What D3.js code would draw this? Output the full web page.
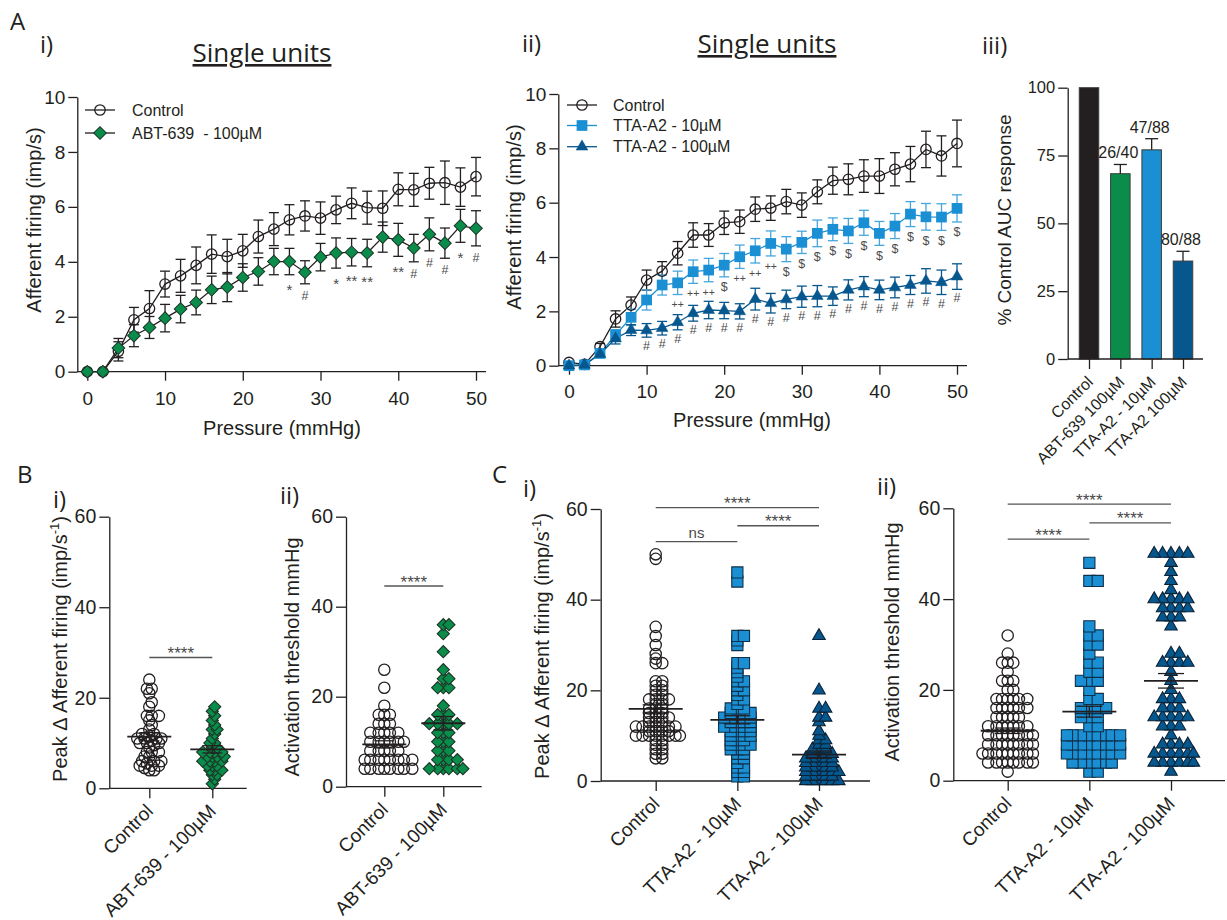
<!DOCTYPE html>
<html>
<head>
<meta charset="utf-8">
<script src="https://cdn.jsdelivr.net/npm/d3@7"></script>
<style>
  body { margin: 0; background: #fff; }
  svg text { fill: #231f20; font-family: 'Liberation Sans', Arial, sans-serif; }
  svg text.hum { font-family: 'Open Sans', 'Noto Sans', sans-serif; }
  svg text.sig { fill: #4a4a4a; }
</style>
</head>
<body>
<svg id="fig" width="1227" height="920"></svg>
<script>
// ---- data ----
const pressure = [0, 2, 4, 6, 8, 10, 12, 14, 16, 18, 20, 22, 24, 26, 28, 30, 32, 34, 36, 38, 40, 42, 44, 46, 48, 50];

// A i) single units, control vs ABT-639
const ctrlA1 = [0, 0, 0.74, 1.89, 2.3, 3.19, 3.49, 3.87, 4.28, 4.19, 4.4, 4.92, 5.19, 5.53, 5.67, 5.59, 5.89, 6.13, 5.97, 5.95, 6.64, 6.62, 6.86, 6.88, 6.72, 7.1];
const ctrlA1Err = [0, 0, 0.35, 0.45, 0.65, 0.47, 0.6, 0.67, 0.7, 0.63, 0.6, 0.6, 0.6, 0.55, 0.55, 0.59, 0.5, 0.56, 0.6, 0.63, 0.6, 0.6, 0.58, 0.79, 0.7, 0.7];
const abtA1 = [0, 0, 0.86, 1.31, 1.61, 1.95, 2.28, 2.52, 2.98, 3.08, 3.43, 3.65, 4.01, 4.01, 3.62, 4.17, 4.32, 4.35, 4.32, 4.9, 4.8, 4.5, 5.0, 4.68, 5.31, 5.22];
const abtA1Err = [0, 0, 0.35, 0.4, 0.4, 0.5, 0.5, 0.45, 0.5, 0.53, 0.5, 0.5, 0.48, 0.48, 0.42, 0.5, 0.55, 0.5, 0.5, 0.55, 0.6, 0.5, 0.6, 0.55, 0.6, 0.64];
const sigA1 = [[26, '*'], [28, '#'], [32, '*'], [34, '**'], [36, '**'], [40, '**'], [42, '#'], [44, '#'], [46, '#'], [48, '*'], [50, '#']];

// A ii) single units, control vs TTA-A2
const ctrlA2 = [0.12, 0.05, 0.7, 1.72, 2.23, 3.15, 3.48, 4.14, 4.81, 4.81, 5.26, 5.3, 5.76, 5.8, 6.04, 5.91, 6.4, 6.81, 6.86, 6.98, 6.98, 7.23, 7.42, 7.96, 7.72, 8.18];
const ctrlA2Err = [0, 0, 0.12, 0.3, 0.3, 0.37, 0.35, 0.43, 0.45, 0.42, 0.43, 0.43, 0.45, 0.45, 0.45, 0.45, 0.44, 0.5, 0.57, 0.6, 0.64, 0.61, 0.65, 0.67, 0.74, 0.86];
const tta10A2 = [0, 0.03, 0.45, 1.13, 1.78, 2.42, 2.97, 3.05, 3.46, 3.52, 3.7, 4.01, 4.23, 4.5, 4.29, 4.54, 4.87, 5.02, 4.96, 5.26, 4.87, 5.14, 5.58, 5.48, 5.47, 5.79];
const tta10A2Err = [0, 0, 0.1, 0.2, 0.3, 0.37, 0.37, 0.43, 0.43, 0.43, 0.43, 0.43, 0.45, 0.46, 0.46, 0.41, 0.49, 0.42, 0.46, 0.46, 0.44, 0.46, 0.46, 0.49, 0.49, 0.5];
const tta100A2 = [0, 0.03, 0.43, 1.0, 1.31, 1.3, 1.38, 1.6, 1.93, 2.05, 2.03, 2.0, 2.45, 2.3, 2.44, 2.54, 2.56, 2.56, 2.79, 2.91, 2.79, 2.88, 2.97, 3.12, 3.07, 3.28];
const tta100A2Err = [0, 0, 0.1, 0.2, 0.2, 0.25, 0.25, 0.28, 0.29, 0.32, 0.3, 0.28, 0.4, 0.36, 0.34, 0.39, 0.39, 0.34, 0.37, 0.37, 0.36, 0.38, 0.35, 0.45, 0.45, 0.47];
const sigA2lo = [[14, '++'], [16, '++'], [18, '++'], [20, '$'], [22, '++'], [24, '++'], [26, '++'], [28, '$'], [30, '$'], [32, '$'], [34, '$'], [36, '$'], [38, '$'], [40, '$'], [42, '$'], [44, '$'], [46, '$'], [48, '$'], [50, '$']];
const sigA2hi = [[10, '#'], [12, '#'], [14, '#'], [16, '#'], [18, '#'], [20, '#'], [22, '#'], [24, '#'], [26, '#'], [28, '#'], [30, '#'], [32, '#'], [34, '#'], [36, '#'], [38, '#'], [40, '#'], [42, '#'], [44, '#'], [46, '#'], [48, '#'], [50, '#']];

// A iii) AUC
const aucGroups = ['Control', 'ABT-639 100µM', 'TTA-A2 - 10µM', 'TTA-A2 100µM'];
const aucMean = [100, 68.3, 77.1, 36.1];
const aucErr = [0, 3.4, 4.1, 3.6];
const aucN = ['', '26/40', '47/88', '80/88'];

// B) ABT-639 scatter
const catsB = ['Control', 'ABT-639 - 100µM'];
const peakCtrlB = [24, 22, 22, 21, 19, 18, 16, 16, 16, 15, 14, 13, 12, 12, 11.5, 11, 11, 11, 11, 10.5, 10, 10, 10, 9.5, 9, 8, 8, 8, 7, 7, 6, 6, 6, 5.5, 5, 5, 5, 4.5, 4, 4];
const peakAbtB = [18, 17, 16, 15, 14, 13, 13, 12, 11, 10, 10, 9, 9, 8, 8, 8, 8, 7, 7, 7, 7, 6, 6, 6, 6, 5, 5, 5, 4, 4, 4, 3, 3, 2, 1];
const peakMeanB = [11.4, 8.6], peakSemB = [0.9, 0.8];
const threshCtrlB = [26, 22, 18, 16, 16, 16, 14, 14, 14, 12, 12, 12, 12, 12, 10, 10, 10, 10, 10, 10, 8, 8, 8, 8, 8, 6, 6, 6, 6, 6, 6, 6, 6, 4, 4, 4, 4, 4, 4, 4, 4];
const threshAbtB = [36, 36, 34, 30, 26, 24, 24, 22, 22, 22, 18, 16, 16, 16, 14, 14, 14, 14, 14, 12, 12, 12, 10, 10, 10, 8, 8, 8, 6, 6, 6, 6, 4, 4, 4, 4, 4, 4];
const threshMeanB = [9.4, 14.1], threshSemB = [0.8, 1.5];
const sigB1 = [{ a: 0, b: 1, t: '****', v: 28.9 }];
const sigB2 = [{ a: 0, b: 1, t: '****', v: 44.6 }];

// C) TTA-A2 scatter
const catsC = ['Control', 'TTA-A2 - 10µM', 'TTA-A2 - 100µM'];
const peakCtrlC = [50, 49, 34, 32, 30, 28, 27, 26, 26, 22, 22, 21, 21, 20, 20, 19, 19, 18, 18, 18, 18, 17, 17, 16, 16, 16, 15, 15, 15, 14, 14, 14, 14, 13, 13, 13, 12, 12, 12, 12, 12, 12, 12, 11, 11, 11, 11, 10, 10, 10, 10, 10, 10, 10, 10, 9, 9, 8, 8, 7, 7, 6, 6, 5, 5];
const peakTta10C = [46, 44, 32, 32, 31, 30, 26, 26, 25, 24, 23, 22, 22, 21, 20, 20, 19, 18, 18, 17, 16, 16, 16, 15, 15, 15, 15, 14, 14, 14, 14, 14, 13, 13, 13, 13, 12, 12, 12, 12, 12, 11, 11, 11, 11, 10, 10, 10, 10, 9, 9, 9, 8, 8, 8, 8, 7, 7, 7, 6, 6, 5, 5, 4, 3, 3, 2, 2, 1, 1];
const peakTta100C = [32, 20, 16, 16, 14, 14, 13, 11, 10, 9, 9, 8, 8, 7, 7, 7, 6, 6, 6, 6, 5, 5, 5, 5, 5, 4, 4, 4, 4, 4, 3, 3, 3, 3, 3, 2, 2, 2, 2, 2, 2, 1, 1, 1, 1, 1, 0, 0, 0, 0, 0, 0];
const peakMeanC = [15.9, 13.5, 5.8], peakSemC = [0.9, 0.9, 0.8];
const threshCtrlC = [32, 28, 26, 26, 26, 24, 22, 22, 22, 20, 20, 18, 18, 18, 18, 18, 18, 16, 16, 16, 16, 16, 16, 14, 14, 14, 14, 14, 12, 12, 12, 12, 12, 12, 12, 10, 10, 10, 10, 10, 10, 10, 10, 8, 8, 8, 8, 8, 8, 8, 8, 6, 6, 6, 6, 6, 6, 6, 6, 6, 4, 4, 4, 4, 4, 4, 4, 4, 2];
const threshTta10C = [48, 44, 44, 34, 32, 32, 30, 30, 28, 26, 26, 24, 24, 22, 22, 22, 20, 18, 18, 16, 16, 16, 16, 14, 14, 14, 12, 12, 10, 10, 10, 10, 10, 10, 10, 10, 8, 8, 8, 8, 8, 8, 8, 8, 6, 6, 6, 6, 6, 6, 6, 6, 4, 4, 4, 4, 4, 4, 2, 2];
const threshTta100C = [50, 50, 50, 50, 50, 48, 46, 44, 42, 40, 40, 40, 40, 40, 38, 38, 38, 38, 36, 36, 36, 34, 28, 28, 26, 26, 26, 26, 24, 22, 20, 18, 18, 18, 16, 16, 16, 14, 14, 14, 14, 14, 12, 12, 12, 10, 8, 8, 8, 8, 6, 6, 6, 6, 6, 6, 4, 4, 4, 4, 4, 4, 2];
const threshMeanC = [11.0, 15.2, 22.0], threshSemC = [0.6, 1.2, 1.6];
const sigC1 = [{ a: 0, b: 2, t: '****', v: 60.3 }, { a: 1, b: 2, t: '****', v: 56.3 }, { a: 0, b: 1, t: 'ns', v: 52.8 }];
const sigC2 = [{ a: 0, b: 2, t: '****', v: 60.9 }, { a: 1, b: 2, t: '****', v: 56.8 }, { a: 0, b: 1, t: '****', v: 53.2 }];

// ---- styles ----
const INK = '#231f20';
const GREEN = '#0a8d4a';
const LBLUE = '#1a8fd3';
const DBLUE = '#07578f';

const markCircle = { type: d3.symbolCircle, size: 85, fill: 'none', stroke: INK, sw: 1.3 };
const markDiamond = { type: d3.symbolSquare, size: 80, rot: 45, fill: GREEN, stroke: '#1d3527', sw: 1 };
const markSquare = { type: d3.symbolSquare, size: 115, fill: LBLUE, stroke: LBLUE, sw: 0 };
const markTriangle = { type: d3.symbolTriangle, size: 60, fill: DBLUE, stroke: DBLUE, sw: 0.5 };

const dotCircle = { type: d3.symbolCircle, size: 100, fill: 'none', stroke: INK, sw: 1.3 };
const dotDiamond = { type: d3.symbolSquare, size: 74, rot: 45, fill: GREEN, stroke: '#1d3527', sw: 1.1 };
const dotSquare = { type: d3.symbolSquare, size: 125, fill: LBLUE, stroke: '#0f3049', sw: 1.1 };
const dotTriangle = { type: d3.symbolTriangle, size: 68, fill: DBLUE, stroke: '#0b2236', sw: 1.1 };

const svg = d3.select('#fig');

function styleAxis(a, fs) {
  a.attr('font-family', null).attr('font-size', fs).style('color', INK);
  a.selectAll('line,path').attr('stroke-width', 1.3);
}

function drawMark(sel, m) {
  return sel.attr('d', d3.symbol(m.type, m.size))
    .attr('fill', m.fill).attr('stroke', m.stroke).attr('stroke-width', m.sw);
}

// ---- line charts (panel A i, A ii) ----
function lineChart(o) {
  const g = svg.append('g');
  const x = d3.scaleLinear().domain([0, 50]).range(o.xr);
  const y = d3.scaleLinear().domain([0, 10]).range(o.yr);

  const xa = g.append('g').attr('transform', `translate(0,${y(0)})`)
    .call(d3.axisBottom(x).tickValues([0, 10, 20, 30, 40, 50]).tickSize(9).tickPadding(o.xPad));
  xa.select('.domain').remove();
  g.append('line').attr('x1', o.axisX).attr('x2', o.xEnd).attr('y1', y(0)).attr('y2', y(0))
    .attr('stroke', INK).attr('stroke-width', 1.3);
  const ya = g.append('g').attr('transform', `translate(${o.axisX},0)`)
    .call(d3.axisLeft(y).tickValues([0, 2, 4, 6, 8, 10]).tickSize(9).tickSizeOuter(0).tickPadding(3));
  styleAxis(xa, 19);
  styleAxis(ya, 19);

  g.append('text').attr('x', o.xTitle[0]).attr('y', o.xTitle[1]).attr('text-anchor', 'middle')
    .attr('font-size', 20).text('Pressure (mmHg)');
  g.append('text').attr('transform', `translate(${o.yTitle[0]},${o.yTitle[1]}) rotate(-90)`)
    .attr('text-anchor', 'middle').attr('font-size', 20).text('Afferent firing (imp/s)');

  const line = d3.line().x((d, i) => x(pressure[i])).y(d => y(d));
  o.series.forEach(s => {
    g.append('path').attr('d', line(s.vals)).attr('fill', 'none')
      .attr('stroke', s.line).attr('stroke-width', 1.3);
    const bars = g.append('g').attr('stroke', s.errColor).attr('stroke-width', 1.3);
    s.vals.forEach((v, i) => {
      if (!s.err[i]) return;
      const px = x(pressure[i]), top = y(v + s.err[i]), bot = y(v - s.err[i]);
      bars.append('line').attr('x1', px).attr('x2', px).attr('y1', top).attr('y2', bot);
      bars.append('line').attr('x1', px - 5).attr('x2', px + 5).attr('y1', top).attr('y2', top);
      bars.append('line').attr('x1', px - 5).attr('x2', px + 5).attr('y1', bot).attr('y2', bot);
    });
  });
  o.series.forEach(s => {
    g.append('g').selectAll('path').data(s.vals).join('path')
      .attr('transform', (d, i) => `translate(${x(pressure[i])},${y(d)}) rotate(${s.mark.rot || 0})`)
      .call(drawMark, s.mark);
  });

  // significance symbols under a series
  o.sigs.forEach(sg => {
    const s = o.series[sg.series];
    sg.labels.forEach(([p, t]) => {
      const i = pressure.indexOf(p);
      const cy = y(s.vals[i] - s.err[i]) + sg.gap;
      const star = t.includes('*');
      const plus = t.includes('+');
      g.append('text').attr('class', 'sig').attr('x', x(p)).attr('y', cy)
        .attr('dy', star ? '0.6em' : '0.36em').attr('text-anchor', 'middle')
        .attr('font-size', star ? 15 : plus ? 10.5 : 12.5).text(t);
    });
  });

  // legend
  o.legend.forEach((ly, k) => {
    const s = o.series[k];
    g.append('line').attr('x1', o.legendX[0]).attr('x2', o.legendX[1]).attr('y1', ly).attr('y2', ly)
      .attr('stroke', s.line).attr('stroke-width', 1.3);
    g.append('path').attr('transform', `translate(${(o.legendX[0] + o.legendX[1]) / 2},${ly}) rotate(${s.mark.rot || 0})`)
      .call(drawMark, s.mark);
    g.append('text').attr('x', o.legendX[2]).attr('y', ly).attr('dy', '0.36em')
      .attr('font-size', 16).style('white-space', 'pre').text(s.name);
  });
}

lineChart({
  xr: [87.3, 476], yr: [371.7, 97], axisX: 77.3, xEnd: 486, xPad: 11,
  xTitle: [282, 435], yTitle: [41, 220],
  series: [
    { name: 'Control', vals: ctrlA1, err: ctrlA1Err, line: INK, errColor: INK, mark: markCircle },
    { name: 'ABT-639  - 100µM', vals: abtA1, err: abtA1Err, line: INK, errColor: INK, mark: markDiamond }
  ],
  sigs: [{ series: 1, labels: sigA1, gap: 11.5 }],
  legend: [110, 133], legendX: [85, 115, 132]
});

lineChart({
  xr: [569, 957], yr: [365.7, 94], axisX: 558.3, xEnd: 967, xPad: 10,
  xTitle: [752, 427], yTitle: [521, 217],
  series: [
    { name: 'Control', vals: ctrlA2, err: ctrlA2Err, line: INK, errColor: INK, mark: markCircle },
    { name: 'TTA-A2 - 10µM', vals: tta10A2, err: tta10A2Err, line: LBLUE, errColor: '#45a6de', mark: markSquare },
    { name: 'TTA-A2 - 100µM', vals: tta100A2, err: tta100A2Err, line: DBLUE, errColor: DBLUE, mark: markTriangle }
  ],
  sigs: [{ series: 1, labels: sigA2lo, gap: 10 }, { series: 2, labels: sigA2hi, gap: 8.5 }],
  legend: [105, 125.5, 146.7], legendX: [567, 597, 613]
});

// ---- A iii bar chart ----
(function barChart() {
  const g = svg.append('g');
  const y = d3.scaleLinear().domain([0, 100]).range([359, 87.7]);
  const x = d3.scalePoint().domain(aucGroups).range([1089, 1183]);
  const colors = [INK, GREEN, LBLUE, DBLUE];
  const bw = 19.5;

  g.selectAll('rect').data(aucGroups).join('rect')
    .attr('x', d => x(d) - bw / 2).attr('width', bw)
    .attr('y', (d, i) => y(aucMean[i])).attr('height', (d, i) => y(0) - y(aucMean[i]))
    .attr('fill', (d, i) => colors[i]).attr('stroke', '#3c3c3c').attr('stroke-width', 1);

  aucGroups.forEach((d, i) => {
    if (!aucErr[i]) return;
    const top = y(aucMean[i] + aucErr[i]);
    g.append('line').attr('x1', x(d)).attr('x2', x(d)).attr('y1', y(aucMean[i])).attr('y2', top)
      .attr('stroke', INK).attr('stroke-width', 1.3);
    g.append('line').attr('x1', x(d) - 6.5).attr('x2', x(d) + 6.5).attr('y1', top).attr('y2', top)
      .attr('stroke', INK).attr('stroke-width', 1.3);
    g.append('text').attr('x', x(d) - 2).attr('y', top - 6).attr('text-anchor', 'middle')
      .attr('font-size', 16).text(aucN[i]);
  });

  const ya = g.append('g').attr('transform', 'translate(1067.7,0)')
    .call(d3.axisLeft(y).tickValues([0, 25, 50, 75, 100]).tickSize(9.5).tickSizeOuter(0).tickPadding(3));
  const xa = g.append('g').attr('transform', `translate(0,${y(0)})`)
    .call(d3.axisBottom(x).tickSize(10).tickFormat(''));
  xa.select('.domain').remove();
  g.append('line').attr('x1', 1067.7).attr('x2', 1203).attr('y1', y(0)).attr('y2', y(0))
    .attr('stroke', INK).attr('stroke-width', 1.3);
  styleAxis(ya, 16.5);
  styleAxis(xa, 16);

  g.selectAll('text.cat').data(aucGroups).join('text').attr('class', 'cat')
    .attr('transform', d => `translate(${x(d) + 5},${y(0) + 24}) rotate(-45)`)
    .attr('text-anchor', 'end').attr('font-size', 16).text(d => d);
  g.append('text').attr('transform', 'translate(1011,220) rotate(-90)')
    .attr('text-anchor', 'middle').attr('font-size', 19).text('% Control AUC response');
})();

// ---- scatter plots (panels B, C) ----
function swarm(values, y, cx, gap) {
  const pts = values.map(v => ({ v, py: y(v) })).sort((a, b) => a.v - b.v);
  const placed = [];
  const step = gap / 2;
  pts.forEach(p => {
    for (let k = 0; k < 400; k++) {
      const off = Math.ceil(k / 2) * step * (k % 2 ? 1 : -1);
      const px = cx + off;
      if (placed.every(q => (q.px - px) ** 2 + (q.py - p.py) ** 2 >= gap * gap)) { p.px = px; break; }
    }
    placed.push(p);
  });
  return placed;
}

function scatterChart(o) {
  const g = svg.append('g');
  const y = d3.scaleLinear().domain([0, 60]).range(o.yr);
  const x = d3.scalePoint().domain(o.cats).range(o.xr);

  const ya = g.append('g').attr('transform', `translate(${o.axisX},0)`)
    .call(d3.axisLeft(y).tickValues([0, 20, 40, 60]).tickSize(10).tickSizeOuter(0).tickPadding(3));
  const xa = g.append('g').attr('transform', `translate(0,${y(0)})`)
    .call(d3.axisBottom(x).tickSize(10).tickFormat(''));
  xa.select('.domain').remove();
  g.append('line').attr('x1', o.axisX).attr('x2', o.xEnd).attr('y1', y(0)).attr('y2', y(0))
    .attr('stroke', INK).attr('stroke-width', 1.3);
  styleAxis(ya, 19.5);
  styleAxis(xa, 19);

  g.selectAll('text.cat').data(o.cats).join('text').attr('class', 'cat')
    .attr('transform', d => `translate(${x(d) + 5},${y(0) + 24}) rotate(-45)`)
    .attr('text-anchor', 'end').attr('font-size', 19).text(d => d);

  const t = g.append('text').attr('transform', `translate(${o.yTitle[0]},${o.yTitle[1]}) rotate(-90)`)
    .attr('text-anchor', 'middle').attr('font-size', 20);
  if (o.peak) {
    t.text('Peak Δ Afferent firing (imp/s');
    t.append('tspan').attr('dy', -8).attr('font-size', 13).text('-1');
    t.append('tspan').attr('dy', 8).text(')');
  } else {
    t.text('Activation threshold mmHg');
  }

  o.groups.forEach((vals, i) => {
    const m = o.marks[i];
    const pts = swarm(vals, y, x(o.cats[i]), o.gap);
    g.append('g').selectAll('path').data(pts).join('path')
      .attr('transform', d => `translate(${d.px},${d.py}) rotate(${m.rot || 0})`)
      .call(drawMark, m);
  });

  const mg = g.append('g').attr('stroke', INK);
  o.means.forEach((mv, i) => {
    const cx = x(o.cats[i]), sem = o.sems[i];
    mg.append('line').attr('x1', cx - o.meanW).attr('x2', cx + o.meanW).attr('y1', y(mv)).attr('y2', y(mv)).attr('stroke-width', 1.8);
    mg.append('line').attr('x1', cx).attr('x2', cx).attr('y1', y(mv - sem)).attr('y2', y(mv + sem)).attr('stroke-width', 1.3);
    [mv - sem, mv + sem].forEach(v => {
      mg.append('line').attr('x1', cx - o.capW).attr('x2', cx + o.capW).attr('y1', y(v)).attr('y2', y(v)).attr('stroke-width', 1.3);
    });
  });

  o.sigs.forEach(s => {
    const x1 = x(o.cats[s.a]), x2 = x(o.cats[s.b]), ly = y(s.v);
    g.append('line').attr('x1', x1).attr('x2', x2).attr('y1', ly).attr('y2', ly)
      .attr('stroke', '#555').attr('stroke-width', 1.3);
    const star = s.t.includes('*');
    g.append('text').attr('class', 'sig').attr('x', (x1 + x2) / 2).attr('y', star ? ly + 1.5 : ly - 4)
      .attr('text-anchor', 'middle').attr('font-size', star ? 17 : 15).text(s.t);
  });
}

scatterChart({
  axisX: 109.3, yr: [788.3, 516.7], xEnd: 246.7, xr: [149.3, 212.3], cats: catsB,
  peak: true, yTitle: [67, 649], gap: 4.8, meanW: 22, capW: 10,
  groups: [peakCtrlB, peakAbtB], marks: [dotCircle, dotDiamond],
  means: peakMeanB, sems: peakSemB, sigs: sigB1
});

scatterChart({
  axisX: 346, yr: [786.7, 516.7], xEnd: 481.7, xr: [384.3, 443.3], cats: catsB,
  peak: false, yTitle: [299, 657], gap: 5.6, meanW: 22, capW: 10,
  groups: [threshCtrlB, threshAbtB], marks: [dotCircle, dotDiamond],
  means: threshMeanB, sems: threshSemB, sigs: sigB2
});

scatterChart({
  axisX: 600.7, yr: [781, 509], xEnd: 870, xr: [655.7, 819], cats: catsC,
  peak: true, yTitle: [549, 646], gap: 4.4, meanW: 27, capW: 13,
  groups: [peakCtrlC, peakTta10C, peakTta100C], marks: [dotCircle, dotSquare, dotTriangle],
  means: peakMeanC, sems: peakSemC, sigs: sigC1
});

scatterChart({
  axisX: 953.3, yr: [780.7, 508.3], xEnd: 1225, xr: [1007.7, 1171], cats: catsC,
  peak: false, yTitle: [899, 642], gap: 5.6, meanW: 27, capW: 13,
  groups: [threshCtrlC, threshTta10C, threshTta100C], marks: [dotCircle, dotSquare, dotTriangle],
  means: threshMeanC, sems: threshSemC, sigs: sigC2
});

// ---- panel letters and titles ----
const panelLabels = [
  ['A', 10, 30], ['i)', 40, 53], ['ii)', 522, 52], ['iii)', 982, 54],
  ['B', 17, 483], ['i)', 53, 508], ['ii)', 280, 504],
  ['C', 492, 483], ['i)', 523, 497], ['ii)', 877, 495]
];
svg.append('g').selectAll('text').data(panelLabels).join('text')
  .attr('class', 'hum').attr('x', d => d[1]).attr('y', d => d[2])
  .attr('font-size', 24).text(d => d[0]);

const titles = [['Single units', 262, 62], ['Single units', 767, 53]];
svg.append('g').selectAll('text').data(titles).join('text')
  .attr('class', 'hum').attr('x', d => d[1]).attr('y', d => d[2])
  .attr('text-anchor', 'middle').attr('font-size', 26)
  .style('text-decoration', 'underline').text(d => d[0]);
</script>
</body>
</html>
